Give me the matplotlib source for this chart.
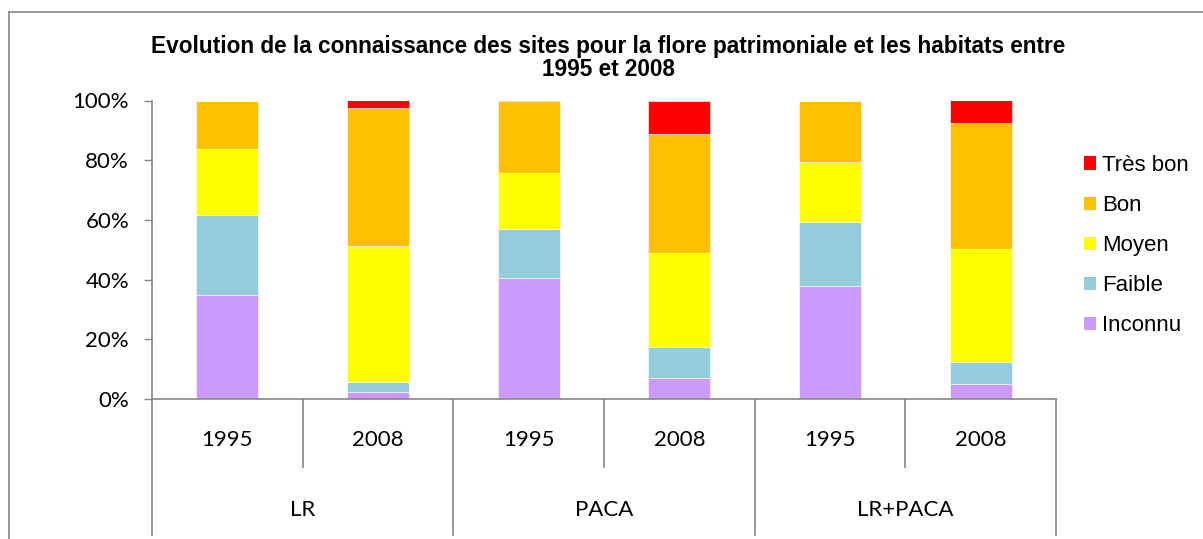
import numpy as np
import matplotlib
matplotlib.use('Agg')
import matplotlib.pyplot as plt
from matplotlib.lines import Line2D
from matplotlib.patches import Patch
import matplotlib.transforms as mtransforms

# data (percent of sites)
groups = ['LR', 'PACA', 'LR+PACA']
years = ['1995', '2008', '1995', '2008', '1995', '2008']
series = ['Inconnu', 'Faible', 'Moyen', 'Bon', 'Très bon']
inconnu = [35.0, 2.5, 40.6, 6.9, 38.0, 5.0]
faible = [26.6, 3.2, 16.3, 10.6, 21.2, 7.5]
moyen = [22.0, 45.6, 18.7, 31.3, 20.2, 37.6]
bon = [16.4, 46.1, 24.4, 39.9, 20.6, 42.2]
tres_bon = [0.0, 2.6, 0.0, 11.3, 0.0, 7.7]
colors = ['#CC99FF', '#93CDDD', '#FFFF00', '#FFC000', '#FF0000']

W, H = 1203, 539
fig = plt.figure(figsize=(W / 100, H / 100), dpi=100)
ax = fig.add_axes([152 / W, (H - 399) / H, (1056 - 152) / W, (399 - 100.5) / H])

grey = '#868686'
x = np.arange(len(years))
bottom = np.zeros(len(years))
for vals, col in zip([inconnu, faible, moyen, bon, tres_bon], colors):
    ax.bar(x, vals, width=0.41, bottom=bottom, color=col, edgecolor='white', linewidth=0.4)
    bottom += np.array(vals)

ax.set_xlim(-0.5, 5.5)
ax.set_ylim(0, 100)
ax.set_yticks([0, 20, 40, 60, 80, 100])
ax.set_yticklabels([f'{v}%' for v in range(0, 101, 20)], fontfamily='Lato', fontsize=16)
ax.tick_params(axis='y', length=6, width=1, color=grey, pad=10.5)
ax.set_xticks([])
for s in ['top', 'right']:
    ax.spines[s].set_visible(False)
ax.spines['left'].set_color(grey)
ax.spines['bottom'].set_color(grey)
ax.spines['left'].set_linewidth(1.2)
ax.spines['bottom'].set_linewidth(1.2)

# category axis drawn below the plot
tr = mtransforms.blended_transform_factory(ax.transData, fig.transFigure)
y0 = (H - 399) / H
y_year = (H - 467) / H
y_grp = (H - 535) / H
for i in range(7):
    xb = i - 0.5
    ybot = y_grp if i % 2 == 0 else y_year
    fig.add_artist(Line2D([xb, xb], [y0, ybot], transform=tr, color=grey, lw=1.2))
for i, yr in enumerate(years):
    fig.text(i, (H - 440) / H, yr, transform=tr, ha='center', va='center',
             fontfamily='Lato', fontsize=16)
for g, name in enumerate(groups):
    fig.text(2 * g + 0.5, (H - 510) / H, name, transform=tr, ha='center', va='center',
             fontfamily='Lato', fontsize=16)

# chart border (left and top)
fig.add_artist(Line2D([9 / W, 9 / W], [0, (H - 12) / H], color=grey, lw=1.2))
fig.add_artist(Line2D([9 / W, 1], [(H - 12) / H, (H - 12) / H], color=grey, lw=1.2))

fig.text(608 / W, (H - 58) / H,
         'Evolution de la connaissance des sites pour la flore patrimoniale et les habitats entre\n1995 et 2008',
         ha='center', va='center', fontfamily='Liberation Sans', fontweight='bold',
         fontsize=16.3, linespacing=1.05)

handles = [Patch(facecolor=c) for c in colors[::-1]]
fig.legend(handles, series[::-1], loc='upper left', bbox_to_anchor=(1084 / W, (H - 155) / H),
           frameon=False, prop={'family': 'Liberation Sans', 'size': 16},
           borderpad=0, borderaxespad=0,
           handlelength=0.55, handleheight=0.55, handletextpad=0.25, labelspacing=0.86)

fig.savefig('out.png', dpi=100)
